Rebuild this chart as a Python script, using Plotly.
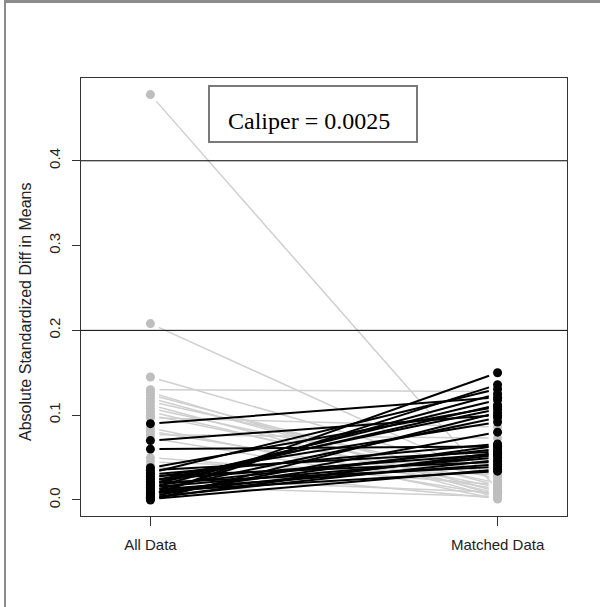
import numpy as np
import plotly.graph_objects as go

# ---- data: absolute standardized difference in means per covariate ----
all_data = [0.090, 0.070, 0.060, 0.038, 0.035, 0.032, 0.030, 0.028, 0.026, 0.024,
            0.022, 0.020, 0.019, 0.017, 0.015, 0.014, 0.012, 0.011, 0.010, 0.008,
            0.007, 0.006, 0.005, 0.004, 0.003, 0.002, 0.001, 0.000, 0.018,
            0.478, 0.208, 0.145, 0.130, 0.127, 0.124, 0.120, 0.116, 0.112, 0.108,
            0.104, 0.100, 0.097, 0.085, 0.081, 0.077, 0.073, 0.050, 0.045, 0.040,
            0.025, 0.016]
matched_data = [0.121, 0.100, 0.063, 0.110, 0.057, 0.131, 0.066, 0.045, 0.092, 0.054,
                0.107, 0.039, 0.118, 0.060, 0.050, 0.125, 0.042, 0.097, 0.034, 0.064,
                0.053, 0.136, 0.150, 0.080, 0.047, 0.056, 0.036, 0.103, 0.112,
                0.012, 0.022, 0.028, 0.128, 0.005, 0.017, 0.010, 0.025, 0.003, 0.020,
                0.008, 0.015, 0.086, 0.001, 0.013, 0.073, 0.006, 0.018, 0.030, 0.002,
                0.009, 0.004]
x_labels = ["All Data", "Matched Data"]
y_ticks = [0.0, 0.1, 0.2, 0.3, 0.4]
ref_lines = [0.2, 0.4]
legend_text = "Caliper = 0.0025"
y_title = "Absolute Standardized Diff in Means"

# ---- layout geometry ----
W, H = 600, 607
L, R, T, B = 81, 33, 78, 91
pw, ph = W - L - R, H - T - B
xr = [0.8, 2.2]
yr = [-0.0189, 0.4976]
sx = pw / (xr[1] - xr[0])
sy = ph / (yr[1] - yr[0])
GAP = 9.0  # px gap between point and line (R type="b")

a = np.array(all_data)
m = np.array(matched_data)
up = m > a

def seg_lines(mask):
    xs, ys = [], []
    for y1, y2 in zip(a[mask], m[mask]):
        dxp, dyp = sx * 1.0, sy * (y2 - y1)
        n = np.hypot(dxp, dyp)
        ox, oy = GAP * dxp / n / sx, GAP * dyp / n / sy
        xs += [1 + ox, 2 - ox, None]
        ys += [y1 + oy, y2 - oy, None]
    return xs, ys

fig = go.Figure()
gx, gy = seg_lines(~up)
fig.add_trace(go.Scatter(x=gx, y=gy, mode="lines",
                         line=dict(color="#cfcfcf", width=1.5), hoverinfo="skip"))
bx, by = seg_lines(up)
fig.add_trace(go.Scatter(x=bx, y=by, mode="lines",
                         line=dict(color="black", width=2), hoverinfo="skip"))
for mask, col in [(~up, "#bebebe"), (up, "black")]:
    fig.add_trace(go.Scatter(x=[1] * int(mask.sum()), y=a[mask], mode="markers",
                             marker=dict(color=col, size=9, line=dict(width=0))))
    fig.add_trace(go.Scatter(x=[2] * int(mask.sum()), y=m[mask], mode="markers",
                             marker=dict(color=col, size=9, line=dict(width=0))))

shapes = []
for v in ref_lines:
    shapes.append(dict(type="line", xref="paper", x0=0, x1=1, yref="y", y0=v, y1=v,
                       line=dict(color="black", width=1)))
def px2x(p): return (p - L) / pw
def py2y(q): return (H - B - q) / ph
# legend box
shapes.append(dict(type="rect", xref="paper", yref="paper",
                   x0=px2x(209), x1=px2x(417), y0=py2y(142), y1=py2y(86),
                   line=dict(color="#7a7a7a", width=2), fillcolor="white", layer="above"))
# page frame (top & left grey border)
shapes.append(dict(type="line", xref="paper", yref="paper",
                   x0=px2x(4), x1=px2x(600), y0=py2y(1.5), y1=py2y(1.5),
                   line=dict(color="#8c8c8c", width=3)))
shapes.append(dict(type="line", xref="paper", yref="paper",
                   x0=px2x(5), x1=px2x(5), y0=py2y(0), y1=py2y(607),
                   line=dict(color="#8c8c8c", width=2)))

annotations = [
    dict(text=legend_text, xref="paper", yref="paper", x=px2x(309), y=py2y(121.5),
         showarrow=False, font=dict(family="Liberation Serif", size=24, color="black"),
         xanchor="center", yanchor="middle"),
    dict(text=y_title, xref="paper", yref="paper", x=px2x(25), y=py2y(312),
         showarrow=False, textangle=-90, font=dict(family="Liberation Sans", size=16, color="#222"),
         xanchor="center", yanchor="middle"),
]

fig.update_layout(
    width=W, height=H, margin=dict(l=L, r=R, t=T, b=B),
    paper_bgcolor="white", plot_bgcolor="white", showlegend=False,
    shapes=shapes, annotations=annotations,
    font=dict(family="Liberation Sans", size=15, color="#222"),
)
fig.update_xaxes(range=xr, tickvals=[1, 2], ticktext=x_labels, showgrid=False, zeroline=False,
                 showline=True, mirror=True, linecolor="#333", linewidth=1,
                 ticks="outside", ticklen=9, tickcolor="#333", ticklabelstandoff=6)
fig.update_yaxes(range=yr, tickvals=y_ticks, ticktext=[f"{v:.1f}" for v in y_ticks],
                 tickangle=-90, showgrid=False, zeroline=False,
                 showline=True, mirror=True, linecolor="#333", linewidth=1,
                 ticks="outside", ticklen=8, tickcolor="#333", ticklabelstandoff=6)

fig.write_html("out.html")
